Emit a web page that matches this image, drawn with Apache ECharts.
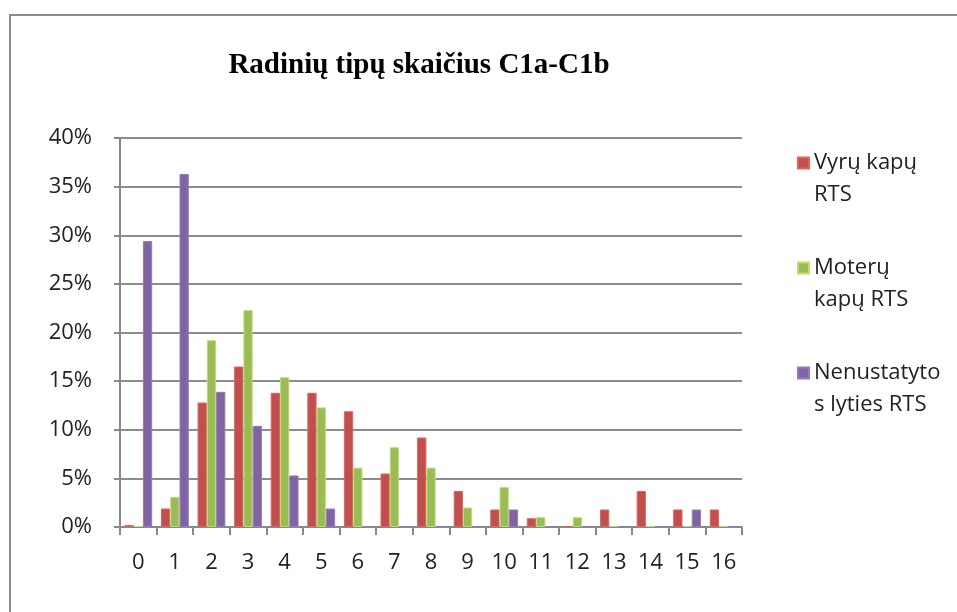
<!DOCTYPE html>
<html><head><meta charset="utf-8">
<script src="https://cdn.jsdelivr.net/npm/echarts@6/dist/echarts.min.js"></script>
<style>html,body{margin:0;padding:0;background:#fff}#c{width:957px;height:612px}</style>
</head><body><div id="c"></div>
<script>
const categories = ['0','1','2','3','4','5','6','7','8','9','10','11','12','13','14','15','16'];
const vyru = [0.2, 1.9, 12.8, 16.5, 13.8, 13.8, 11.9, 5.5, 9.2, 3.7, 1.8, 0.9, 0.1, 1.8, 3.7, 1.8, 1.8];
const moteru = [0.1, 3.1, 19.2, 22.3, 15.4, 12.3, 6.1, 8.2, 6.1, 2.0, 4.1, 1.0, 1.0, 0.1, 0.1, 0.1, 0.1];
const nenustatyto = [29.4, 36.3, 13.9, 10.4, 5.3, 1.9, 0.1, 0.1, 0.1, 0.1, 1.8, 0.1, 0.1, 0.1, 0.1, 1.8, 0.1];
const seriesNames = ['Vyrų kapų\nRTS', 'Moterų\nkapų RTS', 'Nenustatyto\ns lyties RTS'];
const colors = ['#C0504D', '#9BBB59', '#8064A2'];

const chart = echarts.init(document.getElementById('c'));
const font = 'Open Sans';
chart.setOption({
  animation: false,
  title: {
    text: 'Radinių tipų skaičius C1a-C1b',
    left: 414, top: 46, textAlign: 'center',
    textStyle: {fontFamily: 'Liberation Serif', fontSize: 29, fontWeight: 'bold', color: '#000'}
  },
  graphic: [{
    type: 'polyline', shape: {points: [[10, 612], [10, 15], [957, 15]]},
    style: {stroke: '#8a8a8a', lineWidth: 2, fill: null}
  }],
  legend: {
    orient: 'vertical', left: 797, top: 115, itemGap: 9, padding: 0,
    itemWidth: 11, itemHeight: 11, icon: 'rect',
    formatter: name => '\u00a0\n' + name,
    textStyle: {fontFamily: font, fontSize: 22, color: '#222', lineHeight: 32}
  },
  grid: {left: 120, right: 215, top: 138, bottom: 85},
  xAxis: {
    type: 'category', data: categories,
    axisLine: {lineStyle: {color: '#888', width: 2}},
    axisTick: {show: true, length: 8, lineStyle: {color: '#888', width: 2}},
    axisLabel: {fontFamily: font, fontSize: 22, color: '#222', margin: 25}
  },
  yAxis: {
    type: 'value', min: 0, max: 40, interval: 5,
    axisLine: {show: true, lineStyle: {color: '#888', width: 2}},
    axisTick: {show: true, length: 6, lineStyle: {color: '#888', width: 2}},
    splitLine: {lineStyle: {color: '#8c8c8c', width: 2}},
    axisLabel: {fontFamily: font, fontSize: 22, color: '#222', margin: 28, formatter: '{value}%'}
  },
  series: [vyru, moteru, nenustatyto].map((d, i) => ({
    name: seriesNames[i], type: 'bar', data: d, barGap: '0%', barCategoryGap: '24%',
    itemStyle: {color: colors[i], borderColor: echarts.color.lift(colors[i], -0.2), borderWidth: 1}
  })),
  color: colors
});
</script></body></html>
